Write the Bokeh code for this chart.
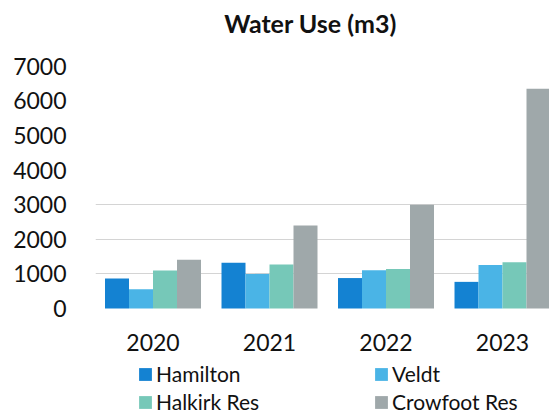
from bokeh.plotting import figure
from bokeh.models import ColumnDataSource, Range1d, FixedTicker, Legend, LegendItem, Label
from bokeh.transform import dodge
from bokeh.core.properties import value
from bokeh.embed import file_html
from bokeh.resources import INLINE

# ---- data ----
title_text = "Water Use (m3)"
years = ["2020", "2021", "2022", "2023"]
hamilton = [870, 1320, 880, 770]
veldt = [560, 1000, 1105, 1260]
halkirk = [1100, 1270, 1145, 1340]
crowfoot = [1410, 2400, 3000, 6350]
series_names = ["Hamilton", "Veldt", "Halkirk Res", "Crowfoot Res"]
y_ticks = [0, 1000, 2000, 3000, 4000, 5000, 6000, 7000]

colors = ["#1482d2", "#4ab4e6", "#76c8b8", "#9fa8aa"]
FONT = "Lato"

xpos = list(range(len(years)))
source = ColumnDataSource(dict(x=xpos, hamilton=hamilton, veldt=veldt,
                               halkirk=halkirk, crowfoot=crowfoot))

p = figure(width=549, height=418, output_backend="svg", toolbar_location=None,
           x_range=Range1d(-0.4936, 3.4034), y_range=Range1d(-3179, 8902),
           x_axis_location=None,
           min_border_left=95, min_border_right=0, min_border_top=0,
           min_border_bottom=0)

p.outline_line_color = None
p.background_fill_color = "white"
p.border_fill_color = "white"

bar_w = 0.206
offsets = [-1.5 * bar_w, -0.5 * bar_w, 0.5 * bar_w, 1.5 * bar_w]
fields = ["hamilton", "veldt", "halkirk", "crowfoot"]
renderers = []
for f, off, c in zip(fields, offsets, colors):
    r = p.vbar(x=dodge("x", off, range=p.x_range), top=f, width=bar_w,
               bottom=0, source=source, fill_color=c, line_color=None)
    renderers.append(r)

# chart title
p.add_layout(Label(x=1.352, y=8251, text=title_text, text_align="center",
                   text_baseline="middle", text_font=FONT,
                   text_font_style="bold", text_font_size="25px",
                   text_color="#111111"))

# category labels under the groups
lab_src = ColumnDataSource(dict(x=xpos, y=[-983] * len(years), text=years))
p.text(x="x", y="y", text="text", source=lab_src, text_align="center",
       text_baseline="middle", text_font=value(FONT), text_font_size="23px",
       text_color="#111111")

# y axis
p.yaxis.ticker = FixedTicker(ticks=y_ticks)
ax = p.yaxis[0]
ax.axis_line_color = None
ax.major_tick_line_color = None
ax.minor_tick_line_color = None
ax.major_label_text_font = FONT
ax.major_label_text_font_size = "23px"
ax.major_label_text_color = "#111111"
ax.major_label_standoff = 23

# grid
p.xgrid.grid_line_color = None
p.ygrid.ticker = FixedTicker(ticks=[1000, 2000, 3000])
p.ygrid.grid_line_color = "#d4d4d4"
p.ygrid.grid_line_width = 1

# legend (column-major fill: Hamilton / Halkirk Res, then Veldt / Crowfoot Res)
order = [0, 2, 1, 3]
items = [LegendItem(label=series_names[i], renderers=[renderers[i]]) for i in order]
legend = Legend(items=items, ncols=2, location=(42, 4),
                label_text_font=FONT, label_text_font_size="21px",
                label_text_color="#111111", glyph_width=16, glyph_height=16,
                label_standoff=3, label_width=214, label_height=24, spacing=3,
                padding=0, margin=0, border_line_color=None,
                background_fill_alpha=0)
p.add_layout(legend)

open("out.html", "w").write(file_html(p, INLINE))
